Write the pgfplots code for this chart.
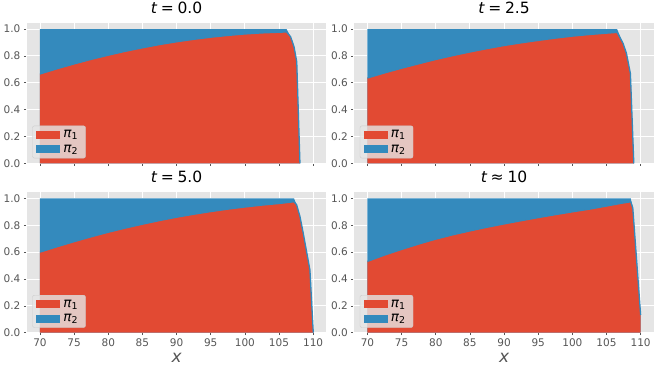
\documentclass[border=0pt]{standalone}
\usepackage{pgfplots}
\pgfplotsset{compat=1.18}
\usepackage{pgfplotstable}
\usepackage{fontspec}
\setmainfont{DejaVu Sans}

\definecolor{mred}{HTML}{E24A33}
\definecolor{mblue}{HTML}{348ABD}
\definecolor{bggray}{HTML}{E5E5E5}
\definecolor{tickgray}{HTML}{555555}
\definecolor{legedge}{HTML}{CCCCCC}

% x, pi_1 (red), pi_1 + pi_2 (top of blue)
\pgfplotstableread{
x      red    tot
70     0.665  1
72.5   0.704  1
75     0.740  1
77.5   0.774  1
80     0.805  1
82.5   0.834  1
85     0.860  1
87.5   0.884  1
90     0.905  1
92.5   0.923  1
95     0.939  1
97.5   0.952  1
100    0.963  1
102.5  0.971  1
105    0.976  1
106.1  0.978  1
106.7  0.943  0.943
107.2  0.868  0.868
107.6  0.757  0.757
108.07 0      0
}\tA
\pgfplotstableread{
x      red    tot
70     0.635  1
72.5   0.673  1
75     0.708  1
77.5   0.741  1
80     0.773  1
82.5   0.802  1
85     0.829  1
87.5   0.854  1
90     0.877  1
92.5   0.897  1
95     0.915  1
97.5   0.932  1
100    0.947  1
102.5  0.959  1
105    0.969  1
106.55 0.975  1
107.43 0.893  0.893
107.92 0.819  0.819
108.4  0.695  0.695
108.5  0.670  0.670
109.0  0      0
}\tB
\pgfplotstableread{
x      red    tot
70     0.600  1
72.5   0.640  1
75     0.678  1
77.5   0.714  1
80     0.748  1
82.5   0.779  1
85     0.808  1
87.5   0.835  1
90     0.860  1
92.5   0.882  1
95     0.902  1
97.5   0.920  1
100    0.936  1
102.5  0.950  1
105    0.962  1
107.2  0.975  1
107.58 0.953  0.953
108.07 0.866  0.866
108.55 0.742  0.742
109.04 0.604  0.604
109.53 0.468  0.468
110.02 0      0
}\tC
\pgfplotstableread{
x      red    tot
70     0.531  1
72.5   0.578  1
75     0.620  1
77.5   0.660  1
80     0.697  1
82.5   0.729  1
85     0.758  1
87.5   0.785  1
90     0.810  1
92.5   0.834  1
95     0.857  1
97.5   0.879  1
100    0.900  1
102.5  0.920  1
105    0.943  1
107    0.962  1
108.55 0.975  1
108.85 0.930  0.930
110    0.132  0.132
}\tD

\pgfplotsset{
  panel/.style={
    scale only axis, width=300.5bp, height=141bp,
    xmin=68, xmax=112, ymin=0, ymax=1.05,
    xtick={70,75,...,110}, ytick={0,0.2,0.4,0.6,0.8,1.0},
    yticklabel style={/pgf/number format/.cd, fixed, fixed zerofill, precision=1},
    /pgf/number format/assume math mode=true,
    axis background/.style={fill=bggray},
    grid=major, grid style={white, line width=0.9bp},
    axis line style={white, line width=1bp},
    tick pos=left, tick align=outside, major tick length=2.5bp,
    tick style={tickgray, line width=0.6bp},
    tick label style={font=\fontsize{10.5bp}{12bp}\selectfont, text=tickgray},
    title style={at={(axis description cs:0.5,1)}, anchor=base, yshift=3.3bp,
      inner sep=0pt, font=\fontsize{15.5bp}{18bp}\selectfont},
    legend image code/.code={\fill[#1, fill opacity=1, sharp corners] (0bp,-3.5bp) rectangle (23bp,3.5bp);},
    legend style={at={(axis description cs:0,0)}, anchor=south west,
      xshift=6bp, yshift=5bp, fill=bggray, fill opacity=0.8, text opacity=1,
      draw=legedge, draw opacity=1, rounded corners=2bp,
      font=\fontsize{13.5bp}{15bp}\selectfont, row sep=2.5bp,
      inner xsep=3.5bp, inner ysep=3bp,
      nodes={inner xsep=4bp, inner ysep=1.5bp}},
    legend cell align=left,
  },
  toprow/.style={xticklabels={}},
  botrow/.style={xlabel={\itshape x},
    xlabel style={at={(axis description cs:0.5,0)}, anchor=base, yshift=-29.5bp,
      inner sep=0pt, text=tickgray, font=\fontsize{17bp}{19bp}\selectfont}},
}

\newcommand{\stack}[1]{%
  \addplot[fill=mblue, draw=none, forget plot] table[x=x, y=tot] {#1} \closedcycle;
  \addplot[fill=mred, draw=none, forget plot] table[x=x, y=red] {#1} \closedcycle;
  \addplot[mblue, line width=1.3bp, forget plot] table[x=x, y=red] {#1};
  \addlegendimage{mred}
  \addlegendentry{{\itshape π}\textsubscript{1}}
  \addlegendimage{mblue}
  \addlegendentry{{\itshape π}\textsubscript{2}}
}

\begin{document}
\begin{tikzpicture}
\useasboundingbox (0,0) rectangle (661bp,372bp);

\begin{axis}[panel, toprow, at={(26.3bp,208.7bp)}, anchor=south west,
  title={{\itshape t}\hspace{0.25em}=\hspace{0.25em}0.0}]
\stack{\tA}
\end{axis}

\begin{axis}[panel, toprow, at={(353.8bp,208.7bp)}, anchor=south west,
  title={{\itshape t}\hspace{0.25em}=\hspace{0.25em}2.5}]
\stack{\tB}
\end{axis}

\begin{axis}[panel, botrow, at={(26.3bp,39.3bp)}, anchor=south west,
  title={{\itshape t}\hspace{0.25em}=\hspace{0.25em}5.0}]
\stack{\tC}
\end{axis}

\begin{axis}[panel, botrow, at={(353.8bp,39.3bp)}, anchor=south west,
  title={{\itshape t}\hspace{0.25em}≈\hspace{0.25em}10}]
\stack{\tD}
\end{axis}
\end{tikzpicture}
\end{document}
